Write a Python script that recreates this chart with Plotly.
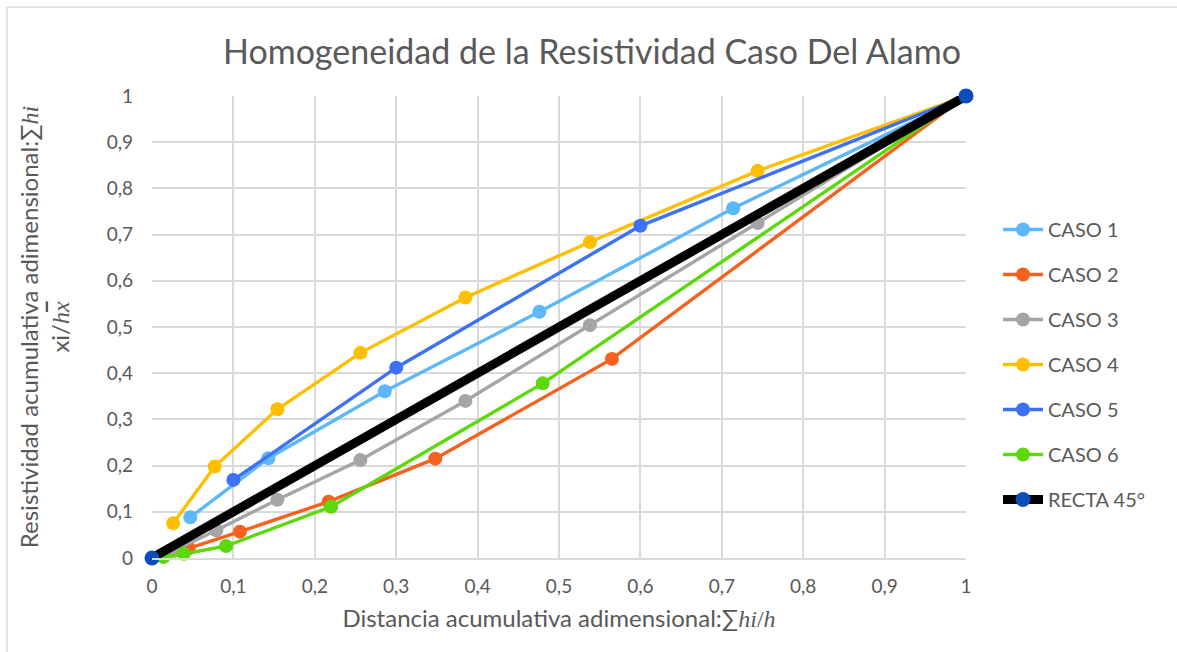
import plotly.graph_objects as go

# ---- data ----
caso1_x = [0.047, 0.143, 0.286, 0.476, 0.714, 1.0]
caso1_y = [0.088, 0.216, 0.361, 0.533, 0.757, 1.0]

caso2_x = [0.045, 0.108, 0.217, 0.348, 0.565, 1.0]
caso2_y = [0.021, 0.057, 0.122, 0.215, 0.431, 1.0]

caso3_x = [0.026, 0.079, 0.154, 0.256, 0.385, 0.538, 0.744, 1.0]
caso3_y = [0.015, 0.060, 0.126, 0.212, 0.340, 0.504, 0.725, 1.0]

caso4_x = [0.026, 0.077, 0.154, 0.256, 0.385, 0.538, 0.744, 1.0]
caso4_y = [0.075, 0.198, 0.322, 0.444, 0.564, 0.684, 0.838, 1.0]

caso5_x = [0.100, 0.300, 0.600, 1.0]
caso5_y = [0.169, 0.412, 0.719, 1.0]

caso6_x = [0.014, 0.039, 0.091, 0.220, 0.480, 1.0]
caso6_y = [0.002, 0.009, 0.026, 0.111, 0.378, 1.0]

recta_x = [0.0, 1.0]
recta_y = [0.0, 1.0]

tick_vals = [0, 0.1, 0.2, 0.3, 0.4, 0.5, 0.6, 0.7, 0.8, 0.9, 1]

series = [
    ("CASO 1", caso1_x, caso1_y, "#5DB7FB"),
    ("CASO 2", caso2_x, caso2_y, "#F5621D"),
    ("CASO 3", caso3_x, caso3_y, "#A5A5A5"),
    ("CASO 4", caso4_x, caso4_y, "#FFBE00"),
    ("CASO 5", caso5_x, caso5_y, "#3D72F6"),
    ("CASO 6", caso6_x, caso6_y, "#5CD80B"),
]

FONT = "Lato, 'Open Sans', sans-serif"
GRAY = "#595959"
SERIF = "font-family:'Liberation Serif'"

fig = go.Figure()
for i, (name, xs, ys, col) in enumerate(series):
    fig.add_trace(go.Scatter(
        x=xs, y=ys, name=name, mode="lines+markers",
        line=dict(color=col, width=3.4),
        marker=dict(color=col, size=14),
        legendgroup=f"g{i}", cliponaxis=False,
    ))

fig.add_trace(go.Scatter(
    x=recta_x, y=recta_y, name="RECTA 45°", mode="lines+markers",
    line=dict(color="#000000", width=9),
    marker=dict(color="#0B4DBB", size=15),
    legendgroup="g6", cliponaxis=False,
))

W, H = 1177, 652
L, R, T, B = 152, 966, 96, 558


def px_to_paper_x(px):
    return (px - L) / (R - L)


def px_to_paper_y(py):
    return (B - py) / (B - T)


fig.update_layout(
    width=W, height=H,
    margin=dict(l=L, r=W - R, t=T, b=H - B, pad=0),
    paper_bgcolor="white", plot_bgcolor="white",
    separators=",.",
    font=dict(family=FONT, color=GRAY, size=18),
    title=dict(
        text="Homogeneidad de la Resistividad Caso Del Alamo",
        x=592 / W, xanchor="center", y=1 - 52 / H, yanchor="middle",
        font=dict(family=FONT, size=34, color=GRAY),
    ),
    xaxis=dict(
        range=[0, 1], tickvals=tick_vals, showgrid=True,
        gridcolor="#D9D9D9", gridwidth=1.5, zeroline=False,
        showline=True, linecolor="#D9D9D9", linewidth=1.5,
        ticks="", ticklabelstandoff=10,
        tickfont=dict(family=FONT, size=19, color=GRAY),
        title=dict(
            text=f"Distancia acumulativa adimensional:∑<span style=\"{SERIF}\"><i>hi</i>/<i>h</i></span>",
            font=dict(family=FONT, size=24, color=GRAY),
            standoff=15,
        ),
    ),
    yaxis=dict(
        range=[0, 1], tickvals=tick_vals, showgrid=True,
        gridcolor="#D9D9D9", gridwidth=1.5, zeroline=False,
        showline=False, ticks="", ticklabelstandoff=18,
        tickfont=dict(family=FONT, size=19, color=GRAY),
        title=dict(
            text=(f"Resistividad acumulativa adimensional:∑<span style=\"{SERIF}\"><i>hi</i></span><br>"
                  f"xi/<span style=\"{SERIF}\"><i>h</i></span>"
                  f"<span style=\"{SERIF};text-decoration:overline\"><i>x</i></span>"),
            font=dict(family=FONT, size=24, color=GRAY),
            standoff=30,
        ),
    ),
    legend=dict(
        x=px_to_paper_x(998), xanchor="left",
        y=px_to_paper_y(210), yanchor="top",
        font=dict(family=FONT, size=20, color=GRAY),
        tracegroupgap=16, bgcolor="rgba(0,0,0,0)",
        itemwidth=40,
    ),
    showlegend=True,
)

# chart border (Excel chart area outline)
fig.add_shape(type="line", xref="paper", yref="paper",
              x0=px_to_paper_x(7), x1=px_to_paper_x(7),
              y0=px_to_paper_y(7), y1=px_to_paper_y(660),
              line=dict(color="#D9D9D9", width=1.5))
fig.add_shape(type="line", xref="paper", yref="paper",
              x0=px_to_paper_x(7), x1=px_to_paper_x(1185),
              y0=px_to_paper_y(7), y1=px_to_paper_y(7),
              line=dict(color="#D9D9D9", width=1.5))

fig.write_html("out.html")
